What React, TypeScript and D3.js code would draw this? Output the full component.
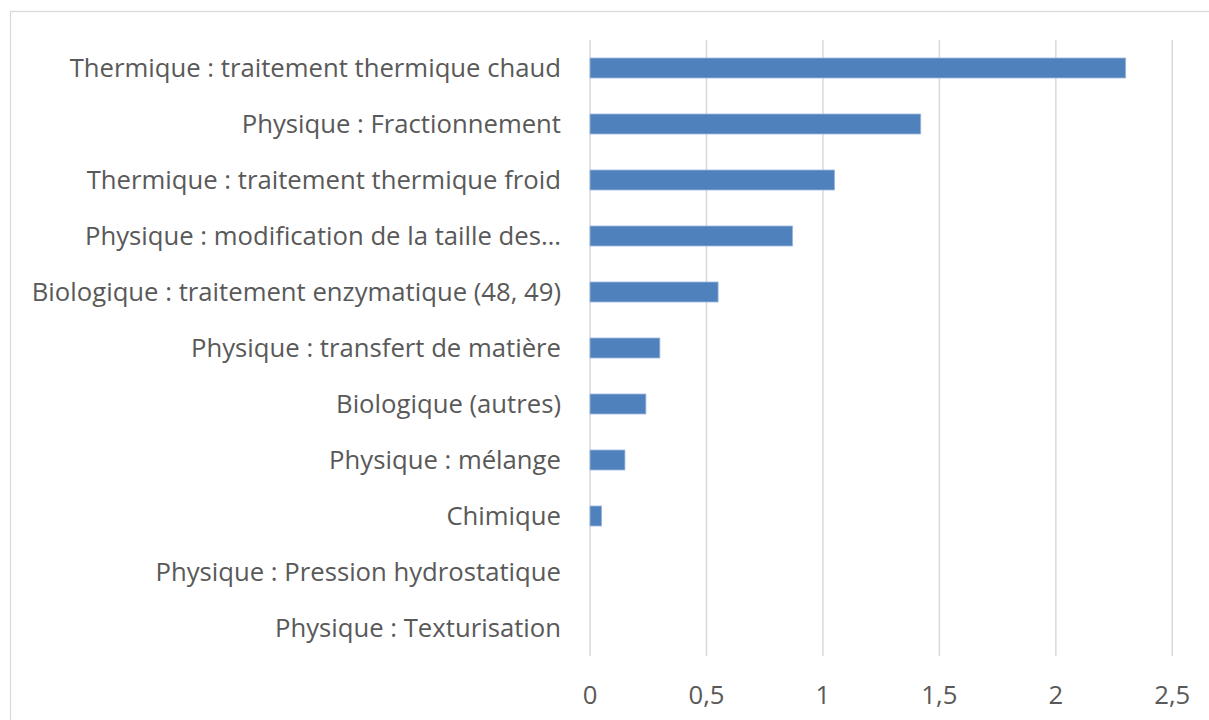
import React from "react";
import * as d3 from "d3";

const categories = [
  "Thermique : traitement thermique chaud",
  "Physique : Fractionnement",
  "Thermique : traitement thermique froid",
  "Physique : modification de la taille des…",
  "Biologique : traitement enzymatique (48, 49)",
  "Physique : transfert de matière",
  "Biologique (autres)",
  "Physique : mélange",
  "Chimique",
  "Physique : Pression hydrostatique",
  "Physique : Texturisation",
];
const values = [2.3, 1.42, 1.05, 0.87, 0.55, 0.3, 0.24, 0.15, 0.05, 0, 0];
const ticks = [0, 0.5, 1, 1.5, 2, 2.5];

const W = 1209;
const H = 720;
const FONT = "'Open Sans', sans-serif";

export default function App() {
  const x = d3.scaleLinear().domain([0, 2.5]).range([590, 1172.3]);
  const y = d3
    .scaleBand<string>()
    .domain(categories)
    .range([40, 656])
    .paddingInner(0.643)
    .paddingOuter(0.3215);
  const fmt = (v: number) => String(v).replace(".", ",");
  return (
    <svg
      width={W}
      height={H}
      style={{ position: "absolute", left: 0, top: 0, display: "block" }}
    >
      <rect x={0} y={0} width={W} height={H} fill="#ffffff" />
      <rect
        x={10.5}
        y={11.5}
        width={W + 20}
        height={H + 20}
        fill="none"
        stroke="#d9d9d9"
        strokeWidth={1.3}
      />
      {ticks.map((t) => (
        <line
          key={"g" + t}
          x1={x(t)}
          x2={x(t)}
          y1={40}
          y2={656}
          stroke="#d9d9d9"
          strokeWidth={1.5}
        />
      ))}
      {categories.map((c, i) => (
        <rect
          key={"b" + c}
          x={x(0)}
          y={y(c)!}
          width={Math.max(0, x(values[i]) - x(0))}
          height={y.bandwidth()}
          fill="#4f81bd"
          stroke={values[i] > 0 ? "#9fb8dc" : "none"}
          strokeWidth={0.8}
        />
      ))}
      {categories.map((c) => (
        <text
          key={"l" + c}
          x={561}
          y={y(c)! + y.bandwidth() / 2}
          dy="0.35em"
          textAnchor="end"
          fontFamily={FONT}
          fontSize={25.7}
          fill="#595959"
        >
          {c}
        </text>
      ))}
      {ticks.map((t) => (
        <text
          key={"t" + t}
          x={x(t)}
          y={704}
          textAnchor="middle"
          fontFamily={FONT}
          fontSize={25.7}
          fill="#595959"
        >
          {fmt(t)}
        </text>
      ))}
    </svg>
  );
}
